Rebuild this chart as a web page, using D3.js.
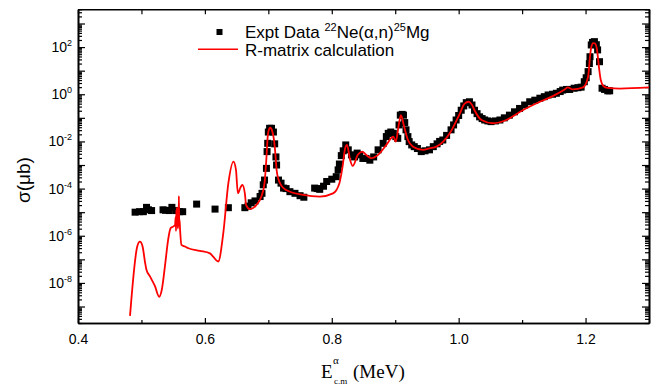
<!DOCTYPE html>
<html>
<head>
<meta charset="utf-8">
<script src="https://cdn.jsdelivr.net/npm/d3@7"></script>
<style>
  body { margin: 0; background: #fff; }
  svg { display: block; font-family: "Liberation Sans", Arial, sans-serif; }
</style>
</head>
<body>
<svg id="chart" width="672" height="385"></svg>
<script>
// R-matrix calculation (E in MeV, sigma in microbarn)
const calcEnergy = [0.482,0.4934,0.4976,0.5018,0.5055,0.508,0.5134,0.521,0.528,0.532,
  0.537,0.542,0.546,0.550,0.553,0.554,0.5545,0.555,0.5555,0.556,
  0.5565,0.557,0.5575,0.558,0.5585,0.559,0.5595,0.560,0.561,0.563,
  0.5685,0.574,0.592,0.608,0.613,0.621,0.629,0.637,0.645,0.649,
  0.652,0.656,0.659,0.663,0.665,0.671,0.681,0.689,0.694,0.697,
  0.699,0.701,0.703,0.706,0.709,0.711,0.713,0.716,0.720,0.728,
  0.755,0.781,0.802,0.812,0.817,0.821,0.824,0.829,0.833,0.841,
  0.848,0.854,0.862,0.873,0.886,0.897,0.901,0.905,0.909,0.914,
  0.920,0.928,0.944,0.954,0.965,0.986,1.002,1.009,1.016,1.021,
  1.025,1.036,1.054,1.075,1.101,1.128,1.149,1.167,1.172,1.180,
  1.196,1.204,1.207,1.209,1.212,1.215,1.218,1.221,1.224,1.228,
  1.235,1.254,1.300];
const calcSigma = [4.0e-10,3.5e-7,5.6e-7,3.5e-7,7.9e-8,3.5e-8,1.9e-8,7.6e-9,2.6e-9,5.0e-9,
  5.0e-8,6.6e-7,2.1e-6,2.45e-6,2.9e-6,6.3e-6,1.6e-6,1.26e-5,2.5e-6,1.6e-5,
  3.2e-6,1.0e-5,2.0e-6,1.26e-5,2.5e-6,4.8e-5,3.2e-6,5.0e-6,1.6e-6,4.1e-7,
  3.5e-7,2.95e-7,2.3e-7,1.8e-7,1.3e-7,8.1e-8,1.3e-6,1.7e-4,1.4e-3,6.2e-4,
  6.3e-5,1.1e-4,1.45e-4,6.3e-5,2.0e-5,1.35e-5,2.0e-5,4.6e-5,1.7e-4,2.0e-3,
  1.6e-2,3.2e-2,3.8e-2,2.8e-2,1.1e-2,3.2e-3,6.3e-4,2.5e-4,1.4e-4,8.7e-5,
  5.4e-5,4.6e-5,6.3e-5,1.7e-4,8.5e-4,5.0e-3,7.1e-3,1.6e-3,9.1e-4,2.7e-3,
  3.7e-3,2.7e-3,1.95e-3,2.7e-3,7.1e-3,1.6e-2,9.8e-3,4.0e-2,1.3e-1,4.3e-2,
  1.15e-2,6.0e-3,4.4e-3,5.1e-3,6.0e-3,2.2e-2,1.55e-1,3.9e-1,4.8e-1,3.55e-1,
  2.1e-1,8.1e-2,5.9e-2,8.1e-2,2.1e-1,4.8e-1,8.5e-1,1.6,1.95,1.6,
  1.95,5.5,39,100,148,141,79,15,4.0,2.24,
  1.86,1.74,1.95];

// experimental data 22Ne(a,n)25Mg
const exptEnergy = [0.490,0.497,0.503,0.508,0.511,0.516,0.534,0.538,0.544,0.548,
  0.555,0.560,0.565,0.587,0.616,0.637,0.663,0.668,0.673,0.679,
  0.687,0.690,0.692,0.694,0.697,0.698,0.699,0.700,0.702,0.705,
  0.708,0.710,0.712,0.713,0.716,0.720,0.724,0.728,0.734,0.742,
  0.750,0.756,0.773,0.777,0.781,0.787,0.792,0.800,0.807,0.810,
  0.812,0.815,0.818,0.822,0.826,0.831,0.836,0.840,0.844,0.849,
  0.854,0.860,0.866,0.873,0.881,0.886,0.889,0.893,0.897,0.901,
  0.904,0.906,0.908,0.911,0.913,0.915,0.917,0.920,0.922,0.926,
  0.930,0.935,0.941,0.947,0.954,0.960,0.966,0.970,0.975,0.981,
  0.988,0.992,0.996,1.000,1.004,1.008,1.012,1.017,1.021,1.025,
  1.029,1.033,1.037,1.041,1.046,1.051,1.058,1.065,1.072,1.080,
  1.088,1.096,1.104,1.112,1.120,1.128,1.135,1.141,1.148,1.154,
  1.160,1.164,1.170,1.175,1.182,1.188,1.193,1.198,1.201,1.204,
  1.206,1.207,1.209,1.211,1.214,1.217,1.219,1.222,1.226,1.230,
  1.235,1.238];
const exptSigma = [1.0e-5,1.05e-5,1.05e-5,1.6e-5,1.26e-5,1.17e-5,1.26e-5,1.2e-5,1.17e-5,1.6e-5,
  1.17e-5,1.05e-5,1.05e-5,2.2e-5,1.35e-5,1.55e-5,1.55e-5,1.8e-5,2.5e-5,3.0e-5,
  4.6e-5,6.3e-5,1.45e-4,2.3e-4,7.2e-4,3.7e-3,8.3e-3,2.5e-2,3.6e-2,3.6e-2,
  2.5e-2,7.9e-3,2.2e-3,1.0e-3,2.3e-4,1.7e-4,1.05e-4,1.0e-4,7.4e-5,6.3e-5,
  5.0e-5,4.3e-5,1.05e-4,1.0e-4,9.3e-5,1.26e-4,2.0e-4,2.5e-4,3.2e-4,6.2e-4,
  1.1e-3,2.5e-3,4.0e-3,7.1e-3,4.4e-3,2.7e-3,2.2e-3,3.2e-3,2.7e-3,1.9e-3,
  1.9e-3,1.6e-3,2.2e-3,4.4e-3,8.3e-3,1.6e-2,2.2e-2,2.5e-2,2.2e-2,1.6e-2,
  1.35e-2,5.0e-2,1.3e-1,1.4e-1,1.3e-1,6.3e-2,3.1e-2,1.6e-2,9.8e-3,7.1e-3,
  6.0e-3,5.0e-3,3.7e-3,4.0e-3,4.4e-3,6.0e-3,7.9e-3,1.0e-2,1.15e-2,1.8e-2,
  3.1e-2,5.0e-2,8.1e-2,1.26e-1,2.1e-1,3.2e-1,4.4e-1,4.8e-1,3.5e-1,2.1e-1,
  1.5e-1,1.1e-1,9.3e-2,8.1e-2,7.4e-2,6.9e-2,7.4e-2,8.1e-2,1.0e-1,1.3e-1,
  1.8e-1,2.5e-1,3.5e-1,4.8e-1,5.6e-1,6.8e-1,7.9e-1,9.3e-1,1.0,1.1,
  1.3,1.5,1.6,1.6,1.8,1.9,2.0,3.4,5.0,9.1,
  20,39,123,158,170,126,76,24,1.8,1.6,
  1.4,1.4];

const xLabelTicks = [0.4, 0.6, 0.8, 1.0, 1.2];
const xMinorTicks = [0.5, 0.7, 0.9, 1.1, 1.3];
const yLabelExponents = [2, 0, -2, -4, -6, -8];

const svg = d3.select("#chart");
const plotLeft = 78, plotRight = 649, plotTop = 9.3, plotBottom = 323;

const x = d3.scaleLinear().domain([0.4, 1.3]).range([plotLeft, plotRight]);
const y = d3.scaleLog().domain([2e-10, 4e3]).range([plotBottom, plotTop]);

// decade and minor log ticks inside the domain
const yMajor = [], yMinor = [];
for (let k = -10; k <= 3; k++) {
  for (let m = 1; m <= 9; m++) {
    const v = m * Math.pow(10, k);
    if (v < y.domain()[0] || v > y.domain()[1]) continue;
    (m === 1 ? yMajor : yMinor).push(v);
  }
}

function styleAxis(g) {
  g.select(".domain").attr("stroke", "#000").attr("stroke-width", 1.6);
  g.selectAll(".tick line").attr("stroke", "#000").attr("stroke-width", 1.2);
}

// bottom
svg.append("g").attr("transform", `translate(0,${plotBottom})`)
  .call(d3.axisBottom(x).tickValues(xLabelTicks).tickSizeInner(-5).tickSizeOuter(0)
    .tickPadding(11).tickFormat(d3.format(".1f")))
  .call(styleAxis)
  .call(g => g.selectAll("text").attr("font-size", 14).attr("fill", "#000")
    .attr("font-family", "Liberation Sans, Arial, sans-serif"));
svg.append("g").attr("transform", `translate(0,${plotBottom})`)
  .call(d3.axisBottom(x).tickValues(xMinorTicks).tickSizeInner(-3).tickSizeOuter(0).tickFormat(""))
  .call(styleAxis);
// top
svg.append("g").attr("transform", `translate(0,${plotTop})`)
  .call(d3.axisTop(x).tickValues(xLabelTicks.concat(xMinorTicks)).tickSizeInner(-5).tickSizeOuter(0).tickFormat(""))
  .call(styleAxis);
// left
svg.append("g").attr("transform", `translate(${plotLeft},0)`)
  .call(d3.axisLeft(y).tickValues(yMajor).tickSizeInner(-7).tickSizeOuter(0).tickFormat(""))
  .call(styleAxis);
svg.append("g").attr("transform", `translate(${plotLeft},0)`)
  .call(d3.axisLeft(y).tickValues(yMinor).tickSizeInner(-4).tickSizeOuter(0).tickFormat(""))
  .call(styleAxis);
// right
svg.append("g").attr("transform", `translate(${plotRight},0)`)
  .call(d3.axisRight(y).tickValues(yMajor).tickSizeInner(-7).tickSizeOuter(0).tickFormat(""))
  .call(styleAxis);
svg.append("g").attr("transform", `translate(${plotRight},0)`)
  .call(d3.axisRight(y).tickValues(yMinor).tickSizeInner(-4).tickSizeOuter(0).tickFormat(""))
  .call(styleAxis);

// y labels 10^n
const yLab = svg.append("g").selectAll("text").data(yLabelExponents).join("text")
  .attr("x", 72).attr("y", d => y(Math.pow(10, d)) + 5)
  .attr("text-anchor", "end").attr("font-size", 14);
yLab.append("tspan").text("10");
yLab.append("tspan").attr("dy", -6).attr("font-size", 9).text(d => d < 0 ? "-" + (-d) : d);

// experimental squares
svg.append("g").selectAll("rect").data(d3.zip(exptEnergy, exptSigma)).join("rect")
  .attr("x", d => x(d[0]) - 3.5).attr("y", d => y(d[1]) - 3.5)
  .attr("width", 7).attr("height", 7).attr("fill", "#000");

// R-matrix curve
const line = d3.line().x(d => x(d[0])).y(d => y(d[1])).curve(d3.curveMonotoneX);
svg.append("path").datum(d3.zip(calcEnergy, calcSigma))
  .attr("d", line).attr("fill", "none").attr("stroke", "#ff0000").attr("stroke-width", 1.8);

// legend
const lg = svg.append("g");
lg.append("rect").attr("x", 216.5).attr("y", 29).attr("width", 6).attr("height", 6).attr("fill", "#000");
const t1 = lg.append("text").attr("x", 245).attr("y", 37.5).attr("font-size", 17);
t1.append("tspan").text("Expt Data ");
t1.append("tspan").attr("dy", -7).attr("font-size", 11).text("22");
t1.append("tspan").attr("dy", 7).text("Ne(\u03b1,n)");
t1.append("tspan").attr("dy", -7).attr("font-size", 11).text("25");
t1.append("tspan").attr("dy", 7).text("Mg");
lg.append("line").attr("x1", 198).attr("x2", 238).attr("y1", 49.3).attr("y2", 49.3)
  .attr("stroke", "#ff0000").attr("stroke-width", 1.5);
lg.append("text").attr("x", 245).attr("y", 55.5).attr("font-size", 17).text("R-matrix calculation");

// axis titles
const serif = "Liberation Serif, Times New Roman, serif";
svg.append("text").attr("x", 321).attr("y", 378).attr("font-family", serif).attr("font-size", 19).text("E");
svg.append("text").attr("x", 333).attr("y", 364).attr("font-family", serif).attr("font-size", 11).text("\u03b1");
svg.append("text").attr("x", 334).attr("y", 384).attr("font-family", serif).attr("font-size", 9).text("c.m");
svg.append("text").attr("x", 353).attr("y", 378).attr("font-family", serif).attr("font-size", 19).text("(MeV)");

svg.append("text").attr("transform", "translate(23,180) rotate(-90)")
  .attr("text-anchor", "middle").attr("dominant-baseline", "central")
  .attr("font-size", 19).text("\u03c3(\u03bcb)");
</script>
</body>
</html>
